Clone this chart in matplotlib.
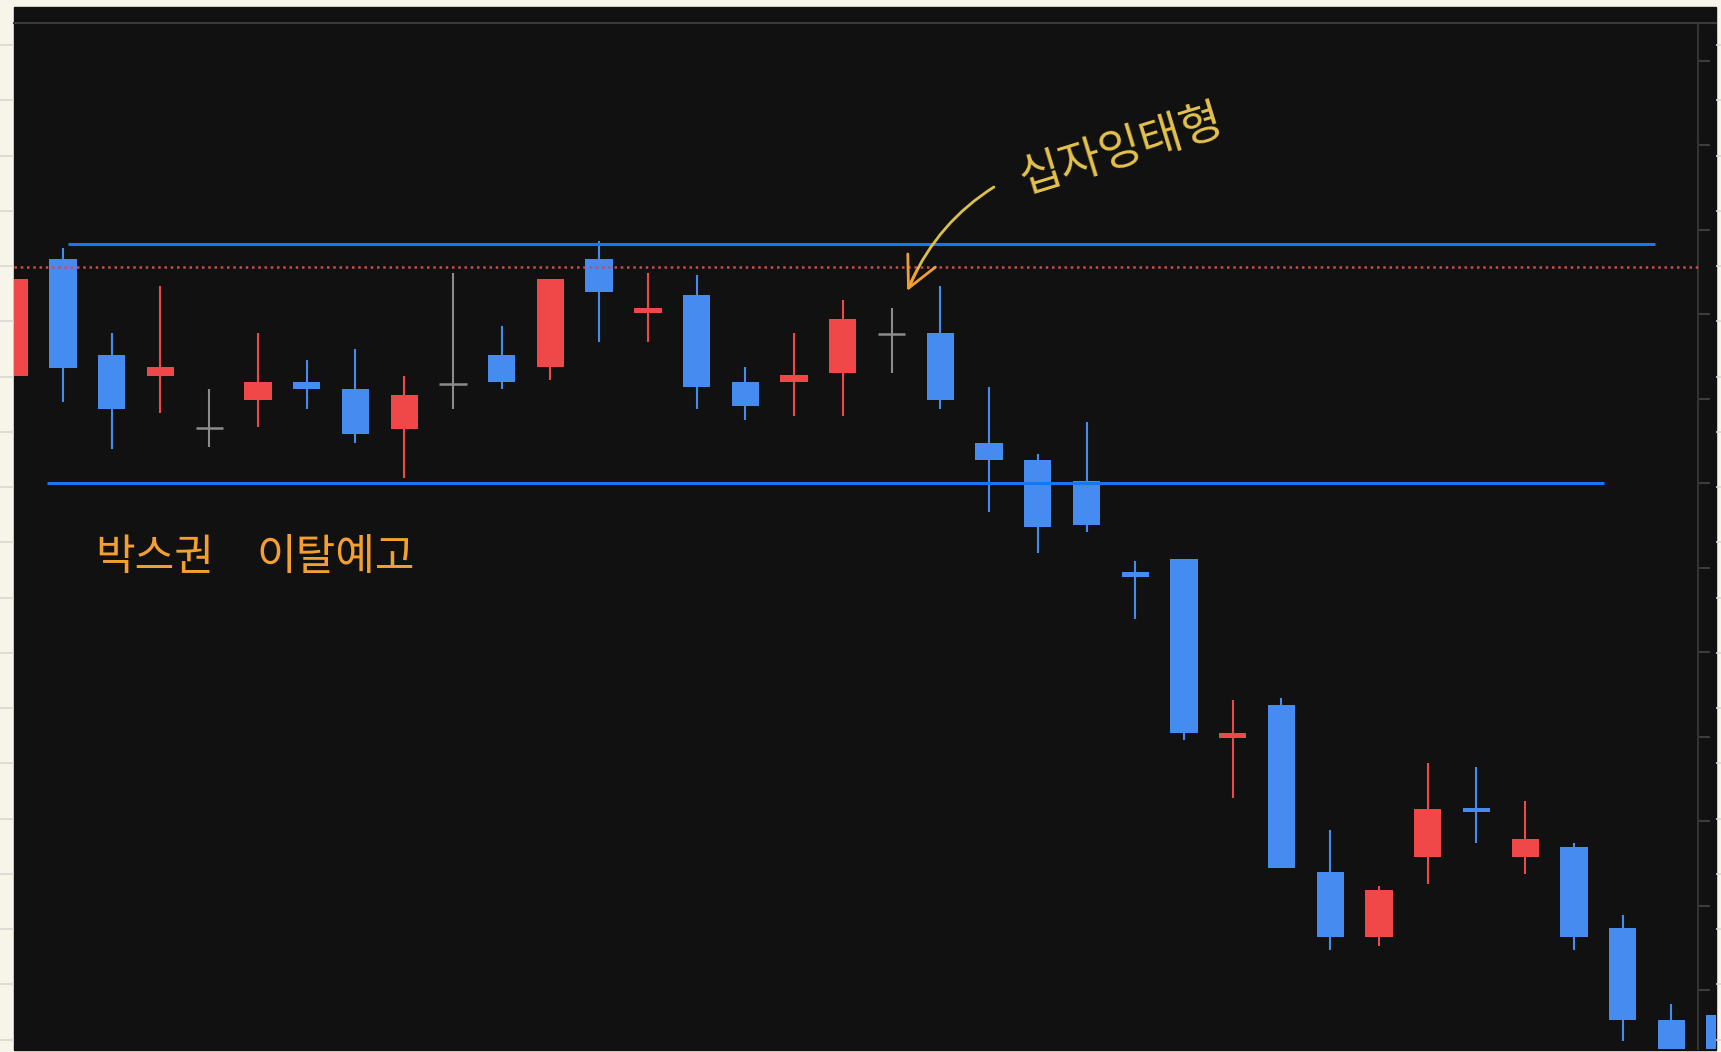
import numpy as np
import matplotlib
matplotlib.use("Agg")
import matplotlib.pyplot as plt
from matplotlib.patches import Rectangle

plt.rcParams['font.family'] = ['Noto Sans CJK KR', 'DejaVu Sans']

# daily candles (price units)
opens  = [154270, 155650, 154520, 154270, 153650, 153990, 154200, 154120, 153640, 154180,
          154520, 154380, 155650, 155020, 155230, 154200, 154200, 154300, 154770, 154780,
          153480, 153270, 153030, 151950, 152100, 149980, 150380, 148400, 147630, 148580,
          149160, 148580, 148690, 147730, 146640, 146700]
highs  = [155420, 155790, 154780, 155340, 154120, 154780, 154460, 154590, 154270, 155490,
          154860, 155420, 155870, 155490, 155470, 154380, 154780, 155170, 155070, 155340,
          154140, 153350, 153720, 152080, 152100, 150430, 150460, 148890, 148230, 149690,
          149640, 149240, 148740, 147890, 146830, 146760]
lows   = [154270, 153960, 153410, 153830, 153430, 153670, 153880, 153480, 153060, 153880,
          154120, 154220, 154670, 154670, 153880, 153750, 153800, 153800, 154300, 153880,
          152660, 152180, 152420, 151390, 149960, 149270, 148450, 147470, 147520, 148260,
          148740, 148370, 147470, 146390, 145870, 145700]
closes = [155420, 154360, 153880, 154380, 153650, 154200, 154120, 153580, 154040, 154180,
          154200, 155420, 155260, 155070, 154140, 153910, 154280, 154940, 154770, 153990,
          153270, 152480, 152500, 151890, 150040, 150040, 148450, 147630, 148180, 149140,
          149110, 148790, 147630, 146650, 146000, 145820]

price_ticks = list(range(147000, 158001, 1000))

# hand-drawn levels: (price, x start, x end) in candle index units
box_top = (155830, 1.10, 33.66)
box_bottom = (153000, 0.67, 32.61)
prev_high = (155560, -0.01, 34.545)

UP, DOWN, FLAT = '#f04848', '#468cf0', '#8c8c8c'
W, H = 1721, 1052

fig = plt.figure(figsize=(W / 100, H / 100), dpi=100)
fig.patch.set_facecolor('#f7f5ea')

# notebook page behind the screenshot
bg = fig.add_axes([0, 0, 1, 1], zorder=0)
bg.set_xlim(0, W)
bg.set_ylim(H, 0)
bg.axis('off')
for y in np.arange(45, H, 55.25):
    bg.axhline(y, color='#d8d8d2', lw=1.2)
bg.add_patch(Rectangle((13.5, 7), 1716 - 13.5, 1049.5 - 7, color='#111111'))

ax = fig.add_axes([14 / W, (H - 1049) / H, (1716 - 14) / W, (1049 - 23) / H], zorder=1)
ax.set_facecolor('#111111')
ax.set_xlim(-0.005, 34.915)
ax.set_ylim(146301, 158450)

o, h, l, c = map(np.array, (opens, highs, lows, closes))
idx = np.arange(len(o))
cols = np.where(c > o, UP, np.where(c < o, DOWN, FLAT))

ax.vlines(idx, l, h, colors=cols, lw=1.5, zorder=2)
ax.bar(idx, np.abs(c - o), bottom=np.minimum(o, c), width=0.56, color=cols, lw=0, zorder=2.1)
flat = c == o
ax.hlines(o[flat], idx[flat] - 0.28, idx[flat] + 0.28, colors=FLAT, lw=1.8, zorder=2.1)

ax.hlines(box_top[0], box_top[1], box_top[2], color='#1677f2', lw=2.2, zorder=3)
ax.hlines(box_bottom[0], box_bottom[1], box_bottom[2], color='#1677f2', lw=2.2, zorder=3)
ax.hlines(prev_high[0], prev_high[1], prev_high[2], color='#d24a4a', lw=1.8,
          linestyles=(0, (1, 1.5)), zorder=3)

# price scale frame on the right, labels cut off in the screenshot
for s in ('left', 'bottom'):
    ax.spines[s].set_visible(False)
ax.spines['top'].set_color('#3a3a3a')
ax.spines['top'].set_linewidth(1.5)
ax.spines['right'].set_position(('axes', (1698 - 14) / (1716 - 14)))
ax.spines['right'].set_color('#333333')
ax.spines['right'].set_linewidth(1.5)
ax.set_xticks([])
ax.yaxis.tick_right()
ax.set_yticks(price_ticks)
ax.tick_params(axis='y', direction='out', length=8.5, width=1.5, color='#3c3c3c',
               labelright=False)

# handwritten notes
ax.text(2.89, 152120, '박스권', color='#f3a030', fontsize=31, fontweight='light',
        ha='center', va='center')
ax.text(6.60, 152120, '이탈예고', color='#f3a030', fontsize=31, fontweight='light',
        ha='center', va='center')
ax.text(22.72, 156950, '십자잉태형', color='#e4c24c', fontsize=33, fontweight='light',
        ha='center', va='center', rotation=17)
ax.annotate('', xy=(18.40, 155380), xytext=(20.10, 156508),
            arrowprops=dict(arrowstyle='-', color='#dcc04a', lw=2,
                            connectionstyle='arc3,rad=0.15', shrinkA=0, shrinkB=0))
ax.annotate('', xy=(18.32, 155277), xytext=(18.52, 155520),
            arrowprops=dict(arrowstyle='->,head_length=1.1,head_width=0.55', color='#f0a030',
                            lw=2, mutation_scale=20, shrinkA=0, shrinkB=0))

fig.savefig('out.png', dpi=100, facecolor=fig.get_facecolor())
